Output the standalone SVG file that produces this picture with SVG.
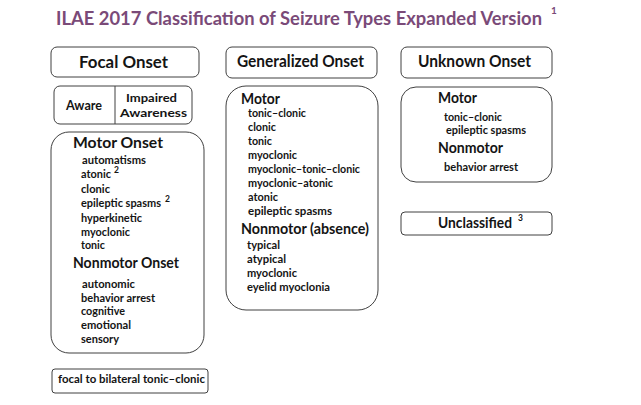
<svg xmlns="http://www.w3.org/2000/svg" width="641" height="405" viewBox="0 0 641 405">
<style>
.box{fill:#fff;stroke:#404040;stroke-width:1}
text{font-family:Lato,"Open Sans","Liberation Sans",sans-serif;font-weight:bold;fill:#141414}
.title{font-size:18.5px;fill:#7a4a78}
.tsup{font-size:10px;fill:#7a4a78}
.h{font-size:17px}
.s{font-size:15.5px}
.aw{font-size:12.5px}
.aw2{font-size:12px}
.i{font-size:11.5px}
.sup{font-size:8.5px}
</style>
<rect width="641" height="405" fill="#fff"/>
<g id="title">
<text class="title" x="56" y="25" textLength="486" lengthAdjust="spacingAndGlyphs">ILAE 2017 Classification of Seizure Types Expanded Version</text>
<text class="tsup" x="551" y="14">1</text>
</g>
<g id="connectors"/>
<g id="focal-onset">
<rect class="box" x="51" y="47" width="148" height="30" rx="6"/>
<text class="h" x="79" y="68" textLength="89" lengthAdjust="spacingAndGlyphs">Focal Onset</text>
</g>
<g id="generalized-onset">
<rect class="box" x="226" y="47" width="151" height="31" rx="6"/>
<text class="h" x="237" y="67" textLength="127" lengthAdjust="spacingAndGlyphs">Generalized Onset</text>
</g>
<g id="unknown-onset">
<rect class="box" x="401" y="47" width="151" height="31" rx="6"/>
<text class="h" x="418" y="67" textLength="113" lengthAdjust="spacingAndGlyphs">Unknown Onset</text>
</g>
<g id="awareness">
<rect class="box" x="54" y="86" width="138" height="38" rx="6"/>
<line x1="115" y1="86" x2="115" y2="124" stroke="#404040" stroke-width="1"/>
<text class="aw" x="66" y="110" textLength="36" lengthAdjust="spacingAndGlyphs">Aware</text>
<text class="aw2" x="126" y="102" textLength="51" lengthAdjust="spacingAndGlyphs">Impaired</text>
<text class="aw2" x="120" y="117" textLength="67" lengthAdjust="spacingAndGlyphs">Awareness</text>
</g>
<g id="focal-types">
<rect class="box" x="51" y="132" width="153" height="221" rx="18"/>
<text class="s" x="73" y="148" textLength="90" lengthAdjust="spacingAndGlyphs">Motor Onset</text>
<text class="i" x="82" y="164" textLength="64" lengthAdjust="spacingAndGlyphs">automatisms</text>
<text class="i" x="81" y="178" textLength="30" lengthAdjust="spacingAndGlyphs">atonic</text>
<text class="sup" x="114" y="173">2</text>
<text class="i" x="81" y="193" textLength="29" lengthAdjust="spacingAndGlyphs">clonic</text>
<text class="i" x="81" y="207" textLength="80" lengthAdjust="spacingAndGlyphs">epileptic spasms</text>
<text class="sup" x="165" y="202">2</text>
<text class="i" x="81" y="222" textLength="61" lengthAdjust="spacingAndGlyphs">hyperkinetic</text>
<text class="i" x="81" y="236" textLength="49" lengthAdjust="spacingAndGlyphs">myoclonic</text>
<text class="i" x="81" y="249" textLength="24" lengthAdjust="spacingAndGlyphs">tonic</text>
<text class="s" x="73" y="268" textLength="106" lengthAdjust="spacingAndGlyphs">Nonmotor Onset</text>
<text class="i" x="82" y="288" textLength="53" lengthAdjust="spacingAndGlyphs">autonomic</text>
<text class="i" x="81" y="302" textLength="74" lengthAdjust="spacingAndGlyphs">behavior arrest</text>
<text class="i" x="81" y="315" textLength="44" lengthAdjust="spacingAndGlyphs">cognitive</text>
<text class="i" x="81" y="329" textLength="50" lengthAdjust="spacingAndGlyphs">emotional</text>
<text class="i" x="81" y="343" textLength="38" lengthAdjust="spacingAndGlyphs">sensory</text>
</g>
<g id="focal-bilateral">
<rect class="box" x="52" y="369" width="156" height="24" rx="3"/>
<text class="i" x="58" y="383" textLength="147" lengthAdjust="spacingAndGlyphs">focal to bilateral tonic–clonic</text>
</g>
<g id="generalized-types">
<rect class="box" x="226" y="86" width="152" height="224" rx="20"/>
<text class="s" x="241" y="104" textLength="39" lengthAdjust="spacingAndGlyphs">Motor</text>
<text class="i" x="248" y="117" textLength="58" lengthAdjust="spacingAndGlyphs">tonic–clonic</text>
<text class="i" x="248" y="131" textLength="28" lengthAdjust="spacingAndGlyphs">clonic</text>
<text class="i" x="248" y="145" textLength="24" lengthAdjust="spacingAndGlyphs">tonic</text>
<text class="i" x="248" y="159" textLength="49" lengthAdjust="spacingAndGlyphs">myoclonic</text>
<text class="i" x="248" y="173" textLength="112" lengthAdjust="spacingAndGlyphs">myoclonic–tonic–clonic</text>
<text class="i" x="248" y="187" textLength="85" lengthAdjust="spacingAndGlyphs">myoclonic–atonic</text>
<text class="i" x="248" y="201" textLength="30" lengthAdjust="spacingAndGlyphs">atonic</text>
<text class="i" x="248" y="215" textLength="84" lengthAdjust="spacingAndGlyphs">epileptic spasms</text>
<text class="s" x="241" y="234" textLength="128" lengthAdjust="spacingAndGlyphs">Nonmotor (absence)</text>
<text class="i" x="247" y="249" textLength="33" lengthAdjust="spacingAndGlyphs">typical</text>
<text class="i" x="247" y="263" textLength="39" lengthAdjust="spacingAndGlyphs">atypical</text>
<text class="i" x="247" y="277" textLength="50" lengthAdjust="spacingAndGlyphs">myoclonic</text>
<text class="i" x="247" y="291" textLength="83" lengthAdjust="spacingAndGlyphs">eyelid myoclonia</text>
</g>
<g id="unknown-types">
<rect class="box" x="401" y="87" width="151" height="95" rx="15"/>
<text class="s" x="438" y="103" textLength="39" lengthAdjust="spacingAndGlyphs">Motor</text>
<text class="i" x="444" y="121" textLength="58" lengthAdjust="spacingAndGlyphs">tonic–clonic</text>
<text class="i" x="446" y="134" textLength="80" lengthAdjust="spacingAndGlyphs">epileptic spasms</text>
<text class="s" x="438" y="153" textLength="65" lengthAdjust="spacingAndGlyphs">Nonmotor</text>
<text class="i" x="444" y="171" textLength="74" lengthAdjust="spacingAndGlyphs">behavior arrest</text>
</g>
<g id="unclassified">
<rect class="box" x="401" y="212" width="151" height="23" rx="4"/>
<text x="438" y="228" style="font-size:15px" textLength="74" lengthAdjust="spacingAndGlyphs">Unclassified</text>
<text class="sup" x="518" y="221">3</text>
</g>
</svg>
